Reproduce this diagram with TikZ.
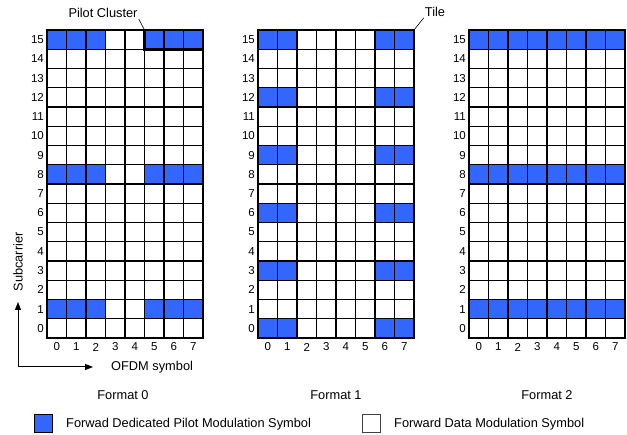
\documentclass[tikz,border=0pt]{standalone}
\usepackage{fontspec}
\setmainfont{Liberation Sans}
\usetikzlibrary{arrows.meta,positioning}
\definecolor{pilotBlue}{HTML}{3366FF}

\begin{document}
\begin{tikzpicture}[x=1pt,y=-1pt,>={Triangle[length=8pt,width=6pt]},
  font=\fontsize{12.8}{14}\selectfont,
  cell/.style={draw,line width=1.4pt,fill=white},
  pilot/.style={cell,fill=pilotBlue},
  rim/.style={draw,line width=2.6pt},
  tick/.style={inner sep=0pt,font=\fontsize{11.5}{13}\selectfont},
  lbl/.style={inner sep=1pt}]
\useasboundingbox (0,0) rectangle (627,435);

% three grids: 8 OFDM symbols x 16 subcarriers
\foreach \gx in {47,258,469}{
  \foreach \c in {0,...,7}
    \foreach \r in {0,...,15}
      \draw[cell] ({\gx+\c*19.5},{30+(15-\r)*19.25}) rectangle ++(19.5,19.25);
  \foreach \r in {0,...,15}
    \node[tick,anchor=east] at ({\gx-3},{30+(15-\r)*19.25+9.6}) {\r};
  \foreach \c in {0,...,7}
    \node[tick] at ({\gx+\c*19.5+9.75},347) {\c};
}

% pilots, format 0
\foreach \r in {1,8,15}
  \foreach \c in {0,1,2,5,6,7}
    \draw[pilot] ({47+\c*19.5},{30+(15-\r)*19.25}) rectangle ++(19.5,19.25);
% pilots, format 1
\foreach \r in {0,3,...,15}
  \foreach \c in {0,1,6,7}
    \draw[pilot] ({258+\c*19.5},{30+(15-\r)*19.25}) rectangle ++(19.5,19.25);
% pilots, format 2
\foreach \r in {1,8,15}
  \foreach \c in {0,...,7}
    \draw[pilot] ({469+\c*19.5},{30+(15-\r)*19.25}) rectangle ++(19.5,19.25);

% outer frames
\foreach \gx in {47,258,469}
  \draw[rim] (\gx,30) rectangle ++(156,308);
\draw[rim] (144.5,30) rectangle (203,49.25);

% callouts
\node[lbl] (pc) at (103,13) {Pilot Cluster};
\coordinate (pcbox) at (144.5,30);
\draw[line width=0.6pt] (pc.south east) -- (pcbox);
\node[lbl] (tile) at (435,12) {Tile};
\coordinate (tilebox) at (414,30);
\draw[line width=0.6pt] (tile.south west) -- (tilebox);

% axes
\coordinate (axup) at (18,302);
\coordinate (axrt) at (93,367);
\draw[<->,line width=1pt] (axup) |- (axrt);
\node[lbl,rotate=90] (sub) at (18,262) {Subcarrier};
\node[lbl,anchor=west] (ofdm) at (110,367) {OFDM symbol};

% format names
\node[lbl] (f0) at (123,395) {Format 0};
\node[lbl] (f1) at (336,395) {Format 1};
\node[lbl] (f2) at (547,395) {Format 2};

% legend
\node[draw,line width=1pt,fill=pilotBlue,minimum size=18pt,inner sep=0pt] (kpilot) at (43.5,424) {};
\node[lbl,anchor=west] (tpilot) at (65,424) {Forwad Dedicated Pilot Modulation Symbol};
\node[draw=black!75,line width=1pt,fill=white,minimum size=18pt,inner sep=0pt] (kdata) at (371,424) {};
\node[lbl,anchor=west] (tdata) at (393,424) {Forward Data Modulation Symbol};
\end{tikzpicture}
\end{document}
